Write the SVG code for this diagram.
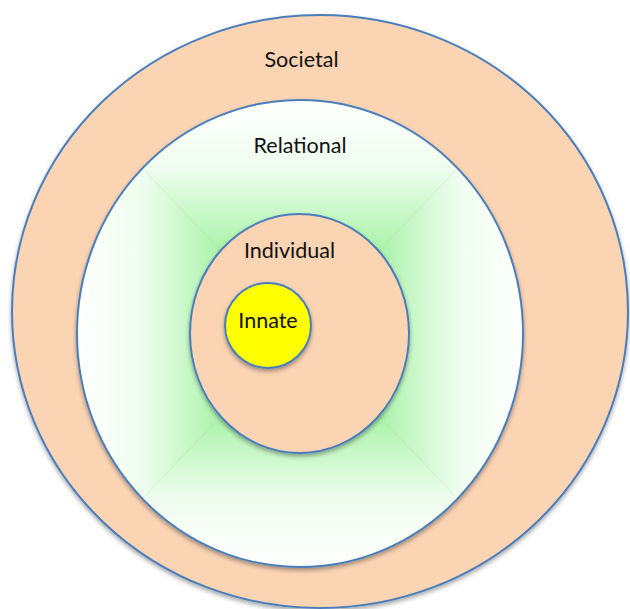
<svg xmlns="http://www.w3.org/2000/svg" width="630" height="609" viewBox="0 0 630 609">
  <style>
    .ring { stroke: #4A7EBB; stroke-width: 2; }
    .peach { fill: #FBD4B4; }
    .label { font-family: Lato, "Open Sans", "Liberation Sans", sans-serif; font-size: 21.5px; fill: #111; text-anchor: middle; }
    .s0 { stop-color: #FFFFFF; }
    .s1 { stop-color: #EEFDEE; }
    .s2 { stop-color: #A6F2A6; }
    .s3 { stop-color: #72E772; }
  </style>
  <defs>
    <filter id="shadow" x="-10%" y="-10%" width="120%" height="125%">
      <feDropShadow dx="0" dy="2.5" stdDeviation="2" flood-color="#000" flood-opacity="0.35"/>
    </filter>
    <clipPath id="relClip">
      <ellipse cx="300" cy="333.5" rx="223" ry="233.5"/>
    </clipPath>
    <!-- rectangular path gradient: white at the box edge, green toward the middle -->
    <linearGradient id="gTop" gradientUnits="userSpaceOnUse" x1="0" y1="100" x2="0" y2="333.5">
      <stop offset="0" class="s0"/><stop offset="0.3" class="s1"/><stop offset="0.66" class="s2"/><stop offset="1" class="s3"/>
    </linearGradient>
    <linearGradient id="gBottom" gradientUnits="userSpaceOnUse" x1="0" y1="567" x2="0" y2="333.5">
      <stop offset="0" class="s0"/><stop offset="0.3" class="s1"/><stop offset="0.66" class="s2"/><stop offset="1" class="s3"/>
    </linearGradient>
    <linearGradient id="gLeft" gradientUnits="userSpaceOnUse" x1="77" y1="0" x2="300" y2="0">
      <stop offset="0" class="s0"/><stop offset="0.3" class="s1"/><stop offset="0.66" class="s2"/><stop offset="1" class="s3"/>
    </linearGradient>
    <linearGradient id="gRight" gradientUnits="userSpaceOnUse" x1="523" y1="0" x2="300" y2="0">
      <stop offset="0" class="s0"/><stop offset="0.3" class="s1"/><stop offset="0.66" class="s2"/><stop offset="1" class="s3"/>
    </linearGradient>
  </defs>

  <rect width="630" height="609" fill="#FFFFFF"/>

  <g id="societal">
    <ellipse class="ring peach" cx="320" cy="311.5" rx="308" ry="296.5" filter="url(#shadow)"/>
    <text class="label" x="301.5" y="67">Societal</text>
  </g>

  <g id="relational">
    <g filter="url(#shadow)">
      <g clip-path="url(#relClip)">
        <polygon points="77,100 523,100 300,333.5" fill="url(#gTop)"/>
        <polygon points="77,567 523,567 300,333.5" fill="url(#gBottom)"/>
        <polygon points="77,100 77,567 300,333.5" fill="url(#gLeft)"/>
        <polygon points="523,100 523,567 300,333.5" fill="url(#gRight)"/>
      </g>
      <ellipse class="ring" cx="300" cy="333.5" rx="223" ry="233.5" fill="none"/>
    </g>
    <text class="label" x="300" y="153">Relational</text>
  </g>

  <g id="individual">
    <ellipse class="ring peach" cx="299.5" cy="333.5" rx="109.5" ry="119.5" filter="url(#shadow)"/>
    <text class="label" x="289.5" y="258">Individual</text>
  </g>

  <g id="innate">
    <ellipse class="ring" cx="268" cy="325.5" rx="43" ry="42.5" fill="#FFFF00" filter="url(#shadow)"/>
    <text class="label" x="268" y="327.5">Innate</text>
  </g>
</svg>
